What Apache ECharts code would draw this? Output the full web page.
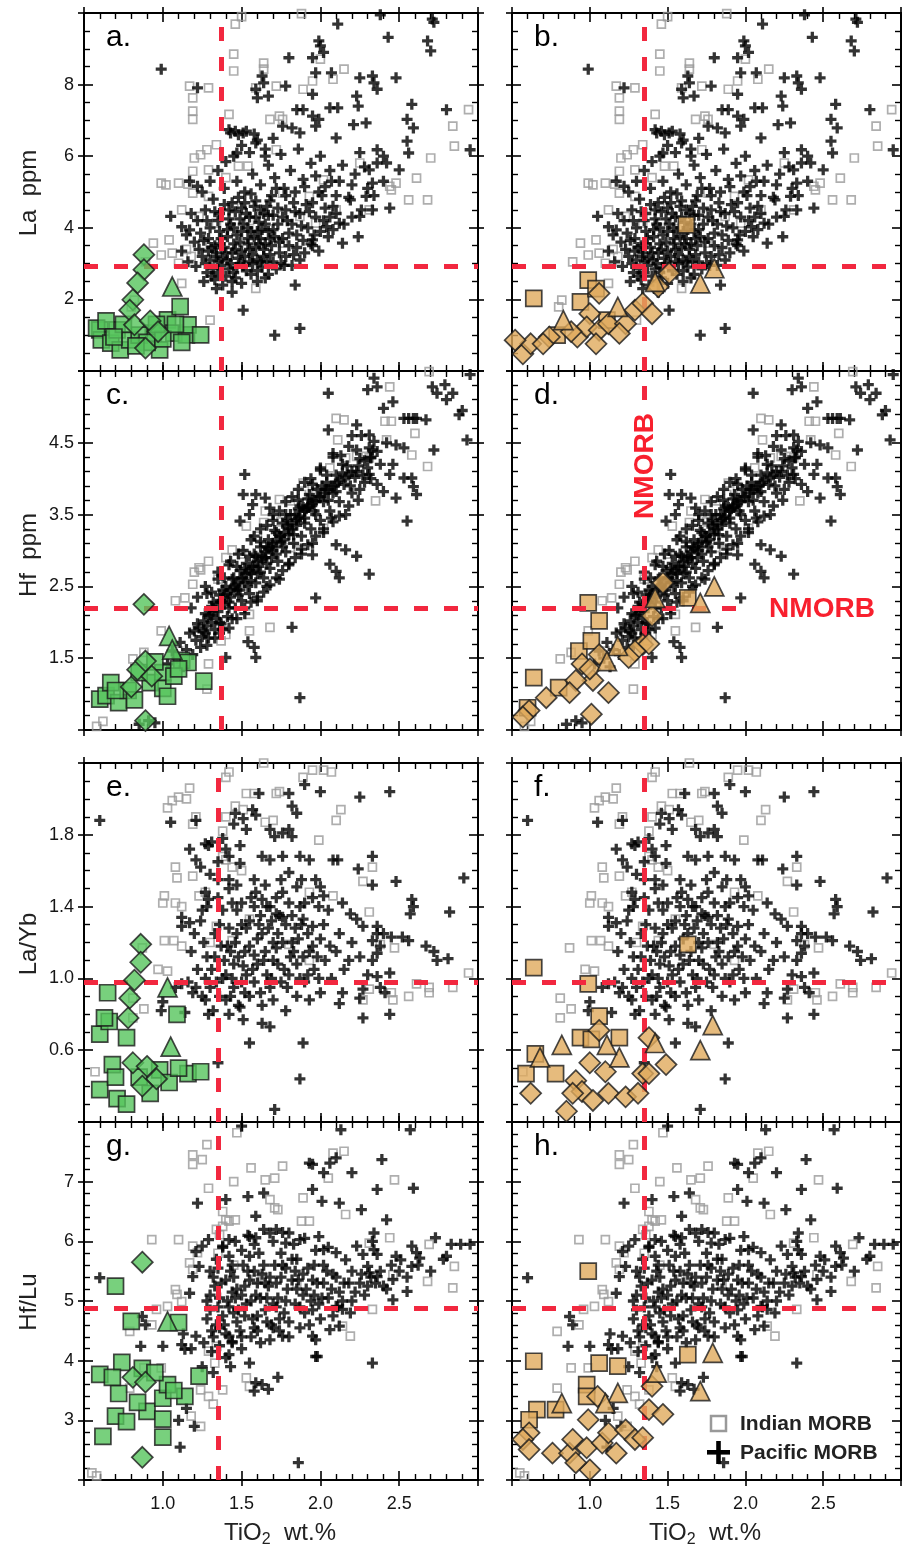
<!DOCTYPE html>
<html>
<head>
<meta charset="utf-8">
<title>MORB TiO2 plots</title>
<script src="https://cdn.jsdelivr.net/npm/echarts@6/dist/echarts.min.js"></script>
<style>
  html, body { margin: 0; padding: 0; background: #fff; }
  #chart { width: 902px; height: 1551px; }
</style>
</head>
<body>
<div id="chart"></div>
<script>
// ---------- data: [TiO2 wt.%, value] ----------

// La ppm background (panels a, b)
var laPacific = [
  [0.99,8.43],[1.22,7.91],[2.11,9.69],[2.43,9.32],[2.71,9.83],[2.72,9.74],[2.68,9.22],[2.7,8.94],[1.99,9.22],[2.0,9.08],
  [2.02,8.9],[1.8,8.75],[1.95,8.75],[1.97,8.33],[2.07,8.33],[1.63,8.24],[1.64,8.05],[1.59,7.87],[1.6,7.63],[1.67,7.68],
  [1.78,7.96],[1.95,7.73],[2.25,8.19],[2.33,8.24],[2.34,8.05],[2.36,7.87],[2.48,8.19],[2.23,7.68],[2.24,7.4],[2.58,7.45],
  [2.55,7.03],[2.8,7.3],[2.59,6.79],[2.55,6.42],[2.56,6.09],[2.5,5.62],[2.06,7.35],[2.11,7.35],[1.85,7.3],[1.89,7.3],
  [1.95,7.12],[1.99,7.03],[1.76,6.84],[1.82,6.79],[1.87,6.65],[1.97,6.84],[2.1,6.51],[2.21,6.88],[2.29,6.93],[2.36,6.18],
  [2.4,6.0],[2.42,5.81],[2.36,5.81],[2.31,5.62],[2.33,5.25],[2.29,4.88],[2.33,4.5],[2.44,4.55],[2.19,4.78],[2.25,4.32],
  [2.24,3.75],[2.14,3.57],[2.12,4.13],[2.04,4.03],[1.95,3.66],[1.87,3.1],[1.84,2.4],[1.51,1.7],[1.71,1.0],[1.87,1.19],
  [1.05,4.32],[1.12,4.03],[1.17,3.94],[1.17,5.3],[1.22,5.16],[1.42,6.74],[1.46,6.7],[1.51,6.65],[1.47,6.09],[1.59,6.37],
  [1.65,6.0],[2.38,9.95],[2.95,6.18],
  [1.16,3.05],[1.21,2.92],[1.25,3.2],[1.28,2.75],[1.31,3.45],[1.33,2.55],[1.35,3.05],[1.37,3.7],[1.38,2.4],[1.4,3.3],
  [1.42,2.85],[1.43,4.1],[1.45,3.55],[1.46,2.6],[1.48,3.15],[1.5,3.9],[1.51,2.95],[1.53,4.4],[1.55,3.4],[1.56,2.7],
  [1.58,3.75],[1.6,3.1],[1.61,4.15],[1.63,2.9],[1.65,3.55],[1.66,4.6],[1.68,3.25],[1.7,3.95],[1.72,2.85],[1.74,3.6],
  [1.76,4.3],[1.78,3.2],[1.8,3.85],[1.83,4.7],[1.85,3.45],[1.88,4.05],[1.9,3.3],[1.93,4.45],[1.96,3.8],[1.99,5.0],
  [2.02,4.2],[2.05,3.75],[2.08,4.6],[2.12,5.3],[2.15,4.1],[2.18,4.85],[2.22,5.5],[2.26,4.5],[2.3,5.1],
  [1.2,3.6],[1.22,4.2],[1.24,3.85],[1.27,4.5],[1.29,3.35],[1.3,4.0],[1.32,4.8],[1.34,3.2],[1.36,4.4],[1.39,5.1],
  [1.41,3.95],[1.44,4.7],[1.47,5.3],[1.49,4.25],[1.52,5.0],[1.54,4.0],[1.57,5.5],[1.59,4.75],[1.62,5.2],[1.64,4.4],
  [1.67,5.75],[1.69,4.9],[1.71,5.4],[1.73,4.55],[1.75,6.05],[1.77,5.1],[1.79,4.2],[1.81,5.6],[1.84,5.0],[1.86,6.2],
  [1.89,5.35],[1.91,4.65],[1.94,5.8],[1.97,5.45],[2.0,6.0],[2.03,5.15],[2.06,5.6],[2.1,4.9],[2.14,5.75],[2.2,5.2],
  [2.25,6.1],[2.28,5.7],[2.34,4.9],[2.4,5.3],
  [1.35,5.6],[1.4,5.85],[1.45,6.0],[1.5,6.3],[1.55,6.1],[1.6,6.45],[1.65,6.2],[1.7,6.5],[1.43,6.65],[1.48,6.6],
  [1.53,6.7],[1.58,6.62],[1.26,2.5],[1.34,2.3],[1.44,2.2],[1.5,2.45],[1.6,2.5],[1.67,2.7],[1.75,3.0],[1.82,2.95],
  [1.95,3.5],[1.99,3.35],[2.08,3.95],[2.2,4.3],[1.12,3.35],[1.15,3.8],[1.18,4.4],[1.25,5.0],[1.3,5.3],
  [1.3,3.1],[1.33,3.5],[1.37,2.95],[1.39,3.45],[1.41,3.1],[1.44,3.3],[1.47,2.9],[1.49,3.6],[1.52,3.2],[1.54,3.7],
  [1.57,3.0],[1.59,3.45],[1.62,3.7],[1.64,3.2],[1.67,3.9],[1.69,3.5],[1.45,4.0],[1.5,4.55],[1.55,4.3],[1.6,3.9],
  [1.65,4.1],[1.7,4.35],[1.36,3.9],[1.42,4.5],[1.48,4.85],[1.58,4.6],
  [1.27,3.0],[1.29,3.7],[1.32,2.85],[1.34,3.3],[1.36,3.55],[1.38,3.15],[1.4,2.65],[1.41,3.75],[1.43,3.0],[1.44,2.5],
  [1.46,3.4],[1.47,3.8],[1.49,3.0],[1.5,3.35],[1.51,4.1],[1.53,2.8],[1.54,3.55],[1.56,3.9],[1.57,3.25],[1.59,4.3],
  [1.6,2.8],[1.61,3.55],[1.63,3.95],[1.64,3.4],[1.66,3.05],[1.67,4.35],[1.68,3.7],[1.7,3.05],[1.71,3.75],[1.73,4.1],
  [1.74,3.3],[1.76,3.7],[1.77,2.95],[1.78,4.5],[1.8,3.5],[1.82,4.1],[1.83,3.25],[1.85,3.8],[1.87,4.4],[1.89,3.65],
  [1.92,4.0],[1.94,3.55],[1.97,4.3],[2.0,3.9],[2.03,4.55],[2.06,4.3],[2.1,4.4],[1.35,4.2],[1.39,4.65],[1.42,4.25],
  [1.46,4.45],[1.52,4.7],[1.56,4.95],[1.62,4.5],[1.68,4.75],[1.72,5.1],[1.78,4.9],[1.84,4.45],[1.9,5.15],[1.95,4.7],
  [2.01,4.9],[2.07,5.3],[1.23,3.4],[1.26,3.65],[1.28,4.2],[1.33,4.45],[1.31,2.65],[1.35,2.75],[1.45,2.75],[1.55,3.05],
  [1.65,2.6],[1.62,3.05]
];
var laIndian = [
  [1.46,9.69],[1.45,8.85],[1.45,8.38],[1.64,8.6],[1.64,8.43],[1.17,7.96],[1.29,7.91],[1.19,7.63],[1.19,7.26],[1.19,7.03],
  [1.42,7.17],[1.59,7.91],[1.72,7.96],[1.76,7.03],[1.89,7.87],[1.95,8.1],[2.08,8.15],[2.15,8.43],[2.0,8.71],[2.94,7.3],
  [2.84,6.84],[2.85,6.28],[2.7,5.95],[2.61,5.39],[2.56,4.78],[2.68,4.78],[2.45,5.06],[2.44,5.16],[2.31,4.5],[2.25,5.81],
  [1.34,6.32],[1.28,6.18],[1.24,6.04],[1.2,5.95],[1.19,5.58],[1.29,5.62],[1.1,5.25],[0.99,5.25],[1.19,4.97],[1.29,4.88],
  [1.12,4.5],[1.23,4.32],[1.34,4.13],[1.04,3.66],[0.94,3.57],[0.89,3.05],[0.99,3.24],[1.06,3.29],[1.1,3.01],[1.12,2.45],
  [0.82,1.98],[0.8,1.79],[1.3,1.42],[1.59,2.31],[1.76,3.57],[1.63,3.57],[1.48,5.72],[1.54,5.72],[1.72,6.18],[1.76,4.97],
  [1.87,4.32],[1.97,4.13],[2.1,4.5],[1.93,4.88],[2.02,5.34],[1.68,7.03],[1.74,7.12],[2.48,5.25],[1.88,9.98],[1.5,9.9],
  [1.15,3.4],[1.18,3.2],[1.25,3.5],[1.02,5.2],[1.16,5.22],[1.4,5.4],[1.45,4.6],[1.55,4.2]
];

// Hf ppm background (panels c, d)
var hfPacific = [
  [2.34,5.4],[2.36,5.28],[2.3,5.24],[2.05,5.19],[2.46,5.07],[2.4,4.98],[2.71,5.28],[2.74,5.19],[2.79,5.31],[2.84,5.19],
  [2.8,5.1],[2.88,4.89],[2.93,4.54],[2.53,4.84],[2.56,4.84],[2.59,4.84],[2.67,4.82],[2.61,4.84],[2.23,4.75],[2.05,4.68],
  [2.31,4.61],[2.34,4.52],[2.31,4.43],[2.36,4.38],[2.32,4.29],[2.48,4.47],[2.53,4.43],[2.72,4.4],[2.46,4.2],[2.44,4.06],
  [2.53,4.01],[2.58,4.01],[2.59,3.89],[2.61,3.78],[2.55,3.41],[2.36,3.92],[2.4,3.82],[2.48,3.73],[2.23,4.1],[2.31,4.06],
  [2.23,2.92],[2.1,3.08],[2.16,3.01],[2.06,2.81],[2.1,2.71],[2.12,2.62],[1.95,2.94],[2.31,2.67],[1.82,1.93],[1.97,2.34],
  [1.87,0.95],[1.52,4.06],[1.51,3.78],[1.59,3.78],[1.65,3.73],[1.57,3.64],[1.68,3.59],[1.49,3.41],[1.55,3.5],[1.58,1.65],
  [1.59,1.51],[1.4,1.51],[0.91,0.63],[0.95,0.6],[0.85,0.58],[2.95,5.45],[2.9,4.95],[1.54,1.73],
  [1.03,1.42],[1.06,1.6],[1.09,1.5],[1.11,1.72],[1.13,1.38],[1.15,1.62],[1.17,1.85],[1.19,1.55],[1.21,1.75],[1.22,1.98],
  [1.24,1.65],[1.26,1.88],[1.27,2.12],[1.29,1.78],[1.31,2.0],[1.32,2.28],[1.33,1.9],[1.35,2.15],[1.36,2.38],[1.37,1.98],
  [1.39,2.25],[1.4,2.5],[1.41,2.08],[1.43,2.35],[1.44,2.6],[1.46,2.2],[1.47,2.45],[1.49,2.72],[1.5,2.3],[1.52,2.55],
  [1.53,2.82],[1.55,2.4],[1.56,2.68],[1.58,2.95],[1.59,2.55],[1.61,2.78],[1.62,3.05],[1.64,2.62],[1.65,2.9],[1.67,3.15],
  [1.68,2.75],[1.7,3.0],[1.71,3.28],[1.73,2.85],[1.75,3.12],[1.76,3.38],[1.78,2.98],[1.8,3.22],[1.81,3.5],[1.83,3.1],
  [1.85,3.35],[1.87,3.62],[1.88,3.2],[1.9,3.45],[1.92,3.72],[1.94,3.3],[1.96,3.55],[1.98,3.85],[2.0,3.42],[2.02,3.68],
  [2.04,3.95],[2.06,3.55],[2.08,3.8],[2.1,4.05],[2.12,3.68],[2.15,3.92],[2.17,4.18],[2.2,3.8],[2.22,4.02],[2.25,4.28],
  [2.28,3.95],[2.3,4.15],[2.33,4.4],[2.38,4.2],[2.42,4.5],
  [1.3,2.1],[1.34,2.05],[1.38,2.3],[1.42,2.2],[1.45,2.48],[1.48,2.38],[1.51,2.62],[1.54,2.5],[1.57,2.78],[1.6,2.68],
  [1.63,2.88],[1.66,2.82],[1.69,3.05],[1.72,2.95],[1.74,3.2],[1.77,3.15],[1.79,3.35],[1.82,3.3],[1.84,3.5],[1.86,3.45],
  [1.89,3.6],[1.91,3.58],[1.93,3.62],[1.95,3.7],[1.99,3.75],[2.03,3.85],[2.07,3.9],[2.11,3.95],[2.14,4.08],[2.18,4.05],
  [1.25,1.8],[1.28,1.95],[1.36,1.85],[1.44,2.05],[1.52,2.2],[1.6,2.35],[1.66,2.5],[1.74,2.6],[1.8,2.8],[1.88,2.95],
  [1.95,3.1],[2.02,3.25],[2.08,3.4],[2.16,3.5],[2.24,3.7],
  [1.28,2.4],[1.35,2.6],[1.42,2.8],[1.48,2.95],[1.56,3.15],[1.62,3.3],[1.7,3.5],[1.78,3.68],[1.86,3.85],[1.94,4.0],
  [2.0,4.15],[2.08,4.3],[2.18,4.45],[2.26,4.6],
  [1.2,1.88],[1.23,1.92],[1.26,2.02],[1.29,2.1],[1.32,2.15],[1.34,2.25],[1.37,2.28],[1.39,2.38],[1.41,2.4],[1.43,2.45],
  [1.46,2.52],[1.48,2.55],[1.5,2.62],[1.53,2.68],[1.55,2.72],[1.58,2.78],[1.6,2.85],[1.63,2.92],[1.65,2.98],[1.67,3.02],
  [1.7,3.1],[1.72,3.12],[1.75,3.2],[1.77,3.25],[1.8,3.3],[1.82,3.38],[1.85,3.42],[1.87,3.48],[1.9,3.55],[1.92,3.6],
  [1.95,3.65],[1.97,3.68],[2.0,3.75],[2.03,3.8],[2.05,3.85],[2.09,3.9],[2.12,3.98],[2.16,4.02],[2.2,4.1],[2.24,4.18],
  [2.28,4.25],[2.32,4.3],
  [1.27,1.85],[1.31,2.22],[1.36,2.0],[1.38,2.45],[1.42,2.28],[1.45,2.62],[1.49,2.45],[1.52,2.75],[1.56,2.58],[1.59,2.92],
  [1.62,2.7],[1.66,3.05],[1.69,2.9],[1.72,3.25],[1.76,3.05],[1.79,3.42],[1.83,3.22],[1.86,3.58],[1.9,3.38],[1.93,3.78],
  [1.97,3.5],[2.01,3.9],[2.05,3.7],[2.1,3.82],[2.14,4.2],[2.19,3.9],[2.23,4.4],[2.27,4.05],
  [1.18,2.2],[1.22,2.35],[1.27,2.5],[1.31,2.42],[1.35,2.7],[1.39,2.62],[1.43,2.85],[1.47,2.78],[1.51,3.0],[1.55,2.92],
  [1.58,3.2],[1.62,3.12],[1.66,3.35],[1.7,3.42],[1.74,3.55],[1.78,3.5],[1.82,3.75],[1.86,3.7],[1.9,3.95],[1.95,3.92],
  [2.0,4.12],[2.04,4.05],[2.08,4.35],[2.13,4.32],[2.2,4.6],
  [1.28,1.68],[1.33,1.78],[1.38,1.9],[1.42,1.92],[1.47,2.05],[1.52,2.12],[1.56,2.28],[1.6,2.3],[1.64,2.42],[1.68,2.52],
  [1.72,2.62],[1.76,2.72],[1.8,2.82],[1.84,2.9],[1.88,3.02],[1.92,3.08],[1.97,3.2],[2.02,3.3],[2.07,3.45],[2.12,3.48],
  [2.18,3.62],[2.25,3.85],[2.32,4.0]
];
var hfIndian = [
  [2.69,5.49],[2.44,5.28],[2.1,4.84],[2.15,4.82],[2.11,4.54],[2.41,4.8],[2.45,4.8],[2.6,4.63],[2.42,4.54],[2.29,4.31],
  [2.31,4.29],[2.16,4.29],[2.23,4.31],[2.58,4.33],[2.68,4.17],[2.06,4.15],[2.35,3.69],[2.29,4.01],[1.89,3.94],[1.95,3.89],
  [1.97,3.82],[1.88,3.78],[1.81,3.69],[1.74,3.71],[1.65,3.55],[1.64,3.39],[1.53,3.34],[1.44,3.01],[1.4,2.9],[1.29,2.85],
  [1.23,2.76],[1.19,2.53],[1.14,2.34],[1.08,2.3],[0.99,1.88],[0.88,1.58],[0.81,1.49],[1.28,1.07],[1.55,2.11],[1.55,1.88],
  [1.68,1.93],[1.29,1.42],[1.37,1.74],[1.4,1.83],[1.81,3.04],[1.86,3.01],[2.02,3.31],[0.58,0.55],[0.62,0.62],[1.2,2.7],
  [1.24,2.73],[1.35,2.6],[1.5,2.95],[1.6,3.2],[1.75,3.4],[1.1,1.6]
];

// La/Yb background (panels e, f)
var lybPacific = [
  [0.6,1.88],[1.05,1.87],[1.21,1.88],[1.27,1.75],[1.29,1.74],[1.31,1.76],[1.61,2.03],[1.57,1.94],[1.59,1.91],[1.8,2.03],
  [1.82,1.96],[1.85,1.92],[1.9,2.08],[2.0,2.04],[2.25,2.01],[2.44,2.04],[1.46,1.92],[1.51,1.89],[1.45,1.86],[1.53,1.83],
  [1.68,1.83],[1.71,1.79],[1.76,1.81],[1.8,1.83],[1.82,1.79],[1.17,1.72],[1.21,1.66],[1.24,1.62],[1.49,1.74],[1.4,1.72],
  [1.42,1.68],[1.49,1.64],[1.63,1.68],[1.68,1.66],[1.76,1.68],[1.87,1.68],[1.93,1.66],[2.08,1.66],[2.11,1.66],[2.33,1.68],
  [2.24,1.61],[2.33,1.52],[2.48,1.54],[2.58,1.44],[2.59,1.4],[2.57,1.36],[2.82,1.37],[2.91,1.56],[1.97,1.55],[2.0,1.51],
  [2.02,1.46],[1.99,1.4],[1.8,1.59],[1.85,1.51],[1.76,1.48],[1.12,1.34],[1.17,1.31],[1.12,1.29],[1.27,1.48],[1.29,1.44],
  [1.25,1.38],[1.38,1.38],[1.44,1.42],[1.59,1.48],[1.63,1.44],[1.68,1.4],[1.72,1.36],[1.76,1.34],[1.87,1.4],[1.89,1.33],
  [1.95,1.29],[2.14,1.42],[2.19,1.36],[2.23,1.33],[2.27,1.29],[2.36,1.29],[2.36,1.25],[2.33,1.21],[2.38,1.18],[2.36,1.14],
  [2.33,1.1],[2.4,1.25],[2.45,1.23],[2.52,1.23],[2.56,1.21],[2.67,1.18],[2.72,1.15],[2.74,1.1],[2.81,1.11],[2.44,1.03],
  [2.36,1.01],[2.38,0.95],[2.41,0.92],[2.27,0.94],[2.25,0.89],[2.27,0.78],[2.44,0.8],[2.12,0.86],[2.14,0.92],[1.89,0.64],
  [1.87,0.44],[1.71,0.27],[1.55,0.64],[1.63,0.75],[1.68,0.73],[1.42,0.8],[1.49,0.84],[1.51,0.77],[1.27,0.88],[1.29,0.8],
  [1.12,0.97],[1.19,0.92],[1.08,0.95],[1.0,0.87],[1.14,0.81],[1.35,0.53],[0.99,0.82],
  [1.22,1.05],[1.26,1.2],[1.3,0.95],[1.33,1.12],[1.36,1.3],[1.38,1.0],[1.41,1.18],[1.43,0.9],[1.45,1.08],[1.47,1.25],
  [1.5,0.98],[1.52,1.15],[1.55,1.32],[1.57,1.05],[1.6,1.22],[1.62,0.92],[1.64,1.1],[1.67,1.28],[1.69,1.0],[1.72,1.17],
  [1.74,1.35],[1.77,1.05],[1.79,0.95],[1.82,1.2],[1.85,1.08],[1.88,1.3],[1.9,0.98],[1.93,1.15],[1.96,1.05],[2.0,1.22],
  [2.03,1.1],[2.07,1.0],[2.1,1.15],[2.15,1.05],[2.2,1.2],[2.25,1.12],[2.3,1.02],
  [1.25,0.9],[1.32,0.82],[1.4,0.88],[1.48,0.85],[1.55,0.9],[1.63,0.85],[1.7,0.88],[1.78,0.82],[1.85,0.9],[1.93,0.88],
  [2.0,0.92],[1.28,1.4],[1.35,1.45],[1.42,1.5],[1.5,1.42],[1.58,1.4],[1.65,1.52],[1.72,1.45],[1.8,1.42],[1.88,1.55],
  [1.95,1.45],[2.05,1.38],[1.2,1.25],[1.18,1.15],[1.16,0.98],[1.24,1.32],
  [1.44,1.0],[1.51,1.07],[1.58,1.13],[1.66,1.02],[1.73,1.25],[1.81,1.12],[1.87,1.0],[1.39,1.1],[1.46,1.2],[1.53,1.28],
  [1.61,1.3],[1.7,1.1],[1.76,1.2],[1.84,1.28],[1.92,1.25],[1.98,1.12],[1.3,1.58],[1.35,1.65],[1.38,1.78],[1.42,1.55],
  [1.31,1.05],[1.34,0.98],[1.37,1.18],[1.4,1.02],[1.42,1.28],[1.45,0.95],[1.48,1.12],[1.5,1.3],[1.53,1.02],[1.55,1.18],
  [1.58,0.98],[1.6,1.08],[1.63,1.25],[1.65,1.15],[1.68,0.95],[1.7,1.2],[1.73,1.08],[1.75,0.98],[1.78,1.3],[1.8,1.02],
  [1.83,1.15],[1.86,1.22],[1.89,1.12],[1.92,1.02],[1.95,1.18],[1.99,1.0],[2.02,1.3],[2.06,1.18],[2.12,1.25],[2.18,1.1],
  [1.28,1.12],[1.33,1.25],[1.36,0.9],[1.47,1.38],[1.56,1.45],[1.62,1.35],[1.69,1.32],[1.75,1.55],[1.82,1.35],[1.9,1.42],
  [1.27,1.0],[1.21,0.95],[1.43,1.15],[1.52,0.92],[1.66,1.4],[1.58,1.55],[1.47,1.52],[1.35,1.55]
];
var lybIndian = [
  [1.64,2.2],[1.4,2.12],[1.42,2.15],[1.89,2.12],[1.95,2.16],[2.02,2.16],[2.07,2.15],[1.17,2.06],[1.1,2.01],[1.06,1.99],
  [1.15,2.0],[1.03,1.95],[1.21,1.9],[1.19,1.86],[1.53,2.03],[1.58,2.03],[1.72,2.03],[1.74,2.04],[1.4,1.9],[1.46,1.96],
  [1.51,1.94],[1.65,1.87],[1.7,1.88],[2.1,1.88],[2.13,1.94],[1.99,1.77],[1.38,1.82],[1.08,1.62],[1.09,1.56],[1.19,1.57],
  [1.01,1.46],[1.0,1.42],[1.08,1.42],[1.12,1.4],[1.4,1.66],[1.44,1.62],[1.38,1.68],[1.23,1.46],[1.27,1.48],[1.93,1.48],
  [2.08,1.46],[2.33,1.62],[2.27,1.54],[2.31,1.37],[1.01,1.21],[1.07,1.21],[0.87,1.17],[0.97,1.05],[1.03,1.04],[0.81,0.89],
  [0.88,0.83],[0.81,0.78],[1.12,1.18],[1.34,1.29],[1.44,1.21],[2.31,0.94],[2.45,0.92],[2.46,0.88],[2.56,0.9],[2.61,0.97],
  [2.69,0.95],[2.69,0.92],[2.84,0.95],[2.94,1.03],[2.47,1.17],[2.38,1.19],[2.27,0.88],[1.8,1.19],[1.93,1.1],[1.55,1.33],
  [0.57,0.48],[1.3,1.2],[1.5,1.6]
];

// Hf/Lu background (panels g, h)
var hflPacific = [
  [1.5,7.93],[2.13,7.87],[2.57,7.87],[1.22,6.64],[1.4,6.7],[1.54,6.75],[1.64,6.81],[1.59,6.42],[1.93,7.31],[1.95,7.29],
  [2.06,7.31],[2.1,7.4],[2.2,7.15],[2.39,7.37],[2.59,6.89],[2.36,6.87],[1.95,6.87],[2.01,6.67],[2.12,6.64],[2.26,6.53],
  [2.02,7.15],[2.42,6.36],[2.34,6.14],[2.33,6.0],[2.34,5.86],[2.36,5.78],[2.23,5.92],[2.27,5.78],[2.58,5.92],[2.73,6.06],
  [2.83,5.95],[2.89,5.95],[2.95,5.95],[2.8,5.75],[2.48,5.75],[2.51,5.69],[2.61,5.81],[2.63,5.72],[2.58,5.58],[2.55,5.16],
  [2.46,5.36],[2.46,5.02],[2.4,5.25],[2.36,5.41],[2.31,5.47],[2.3,5.58],[2.1,5.81],[2.16,5.69],[1.99,6.08],[2.02,5.86],
  [1.87,6.03],[1.78,5.97],[1.8,6.14],[1.68,6.14],[1.72,6.2],[1.55,6.08],[1.59,6.06],[1.42,6.03],[1.38,5.92],[1.29,6.03],
  [1.25,5.92],[1.21,5.83],[1.23,5.58],[1.19,5.41],[1.17,5.13],[0.87,4.74],[0.89,4.6],[0.86,4.24],[1.0,4.24],[1.12,4.27],
  [1.14,4.19],[1.21,4.41],[1.42,4.41],[1.44,4.32],[1.55,3.96],[1.59,3.63],[1.63,3.6],[1.58,3.49],[1.42,4.1],[1.95,4.41],
  [1.97,4.35],[1.97,4.07],[2.06,4.52],[2.12,4.58],[2.14,4.86],[2.19,4.8],[2.33,3.96],[2.1,4.91],[0.6,5.39],[1.76,4.41],
  [1.11,2.55],[1.2,2.9],[1.86,2.29],[1.98,4.07],[1.73,3.72],[1.67,3.52],[1.13,4.45],[1.18,4.2],[1.25,3.9],
  [1.32,3.8],[1.43,3.9],[1.1,3.0],[1.15,3.2],
  [1.28,4.7],[1.3,5.1],[1.32,4.4],[1.35,4.9],[1.37,5.3],[1.39,4.6],[1.41,5.0],[1.43,5.5],[1.45,4.8],[1.47,5.2],
  [1.49,4.5],[1.51,5.6],[1.53,4.95],[1.55,5.35],[1.57,4.7],[1.59,5.1],[1.61,5.8],[1.63,5.45],[1.65,4.85],[1.67,5.25],
  [1.69,4.6],[1.71,5.6],[1.73,5.05],[1.75,5.4],[1.77,4.8],[1.79,5.2],[1.82,5.7],[1.84,4.95],[1.86,5.35],[1.89,5.1],
  [1.92,5.55],[1.95,4.85],[1.98,5.3],[2.01,5.05],[2.04,5.5],[2.07,5.2],[2.1,5.4],[2.14,5.0],[2.18,5.3],[2.22,5.15],
  [2.26,5.45],[2.3,5.25],
  [1.3,5.5],[1.34,5.7],[1.38,5.9],[1.42,5.75],[1.46,6.0],[1.5,5.85],[1.54,6.1],[1.58,5.95],[1.64,6.2],[1.7,6.0],
  [1.76,6.15],[1.83,5.95],[1.9,6.05],[1.97,5.85],[2.05,5.9],
  [1.26,4.3],[1.31,4.15],[1.36,4.25],[1.4,4.05],[1.44,4.3],[1.5,4.2],[1.56,4.4],[1.62,4.3],[1.68,4.35],[1.74,4.5],
  [1.8,4.4],[1.87,4.55],[1.93,4.6],[2.0,4.7],[2.08,4.75],
  [1.33,5.25],[1.36,4.55],[1.44,5.15],[1.48,4.85],[1.52,5.25],[1.58,5.5],[1.6,4.75],[1.66,5.05],[1.72,4.9],[1.78,5.55],
  [1.85,5.2],[1.9,4.8],[1.96,5.1],[2.02,5.3],[2.12,5.15],[2.2,5.5],[2.28,5.1],[2.35,5.3],[2.42,5.2],[2.5,5.5],
  [2.55,5.4],[2.62,5.6],[2.7,5.5],[2.78,5.7],[2.45,5.6],
  [1.3,4.85],[1.32,5.4],[1.34,4.6],[1.36,5.05],[1.38,4.75],[1.4,5.35],[1.42,4.9],[1.44,5.6],[1.46,5.05],[1.47,4.65],
  [1.5,5.1],[1.52,4.75],[1.54,5.5],[1.56,5.0],[1.58,4.55],[1.6,5.3],[1.62,5.05],[1.64,5.6],[1.66,4.65],[1.68,5.4],
  [1.7,4.95],[1.72,5.3],[1.74,4.7],[1.76,5.6],[1.78,5.0],[1.8,4.65],[1.82,5.35],[1.84,5.5],[1.87,4.9],[1.89,5.45],
  [1.91,5.2],[1.94,5.0],[1.96,5.6],[1.99,4.95],[2.02,5.6],[2.05,5.05],[2.08,5.45],[2.11,4.9],[2.15,5.3],[2.2,5.0],
  [2.25,5.3],[2.32,5.4],[2.38,5.5],[1.35,5.55],[1.45,5.4],[1.55,5.75],[1.65,5.3],[1.75,5.8],[1.85,5.7],[1.95,5.35],
  [1.28,5.0],[1.31,4.5],[1.4,4.45],[1.5,4.4],[1.6,4.5],[1.7,4.55]
];
var hflIndian = [
  [1.47,7.82],[1.28,7.62],[1.19,7.45],[1.25,7.37],[1.19,7.29],[1.29,6.89],[1.45,7.0],[1.38,6.5],[1.4,6.36],[1.42,6.34],
  [1.46,6.36],[1.38,6.25],[1.34,6.2],[1.36,6.11],[1.56,7.23],[1.65,7.03],[1.71,7.06],[1.76,7.26],[1.89,6.73],[1.68,6.7],
  [1.71,6.56],[1.73,6.53],[1.88,6.34],[1.93,6.34],[2.08,7.48],[2.15,7.51],[2.05,7.06],[2.16,6.45],[2.47,7.03],[2.44,6.06],
  [2.31,5.97],[2.69,5.95],[2.85,5.58],[2.84,5.22],[2.68,5.33],[2.46,5.44],[0.93,6.03],[1.1,6.03],[1.19,5.92],[1.22,5.81],
  [1.17,5.64],[1.19,5.53],[1.08,5.19],[1.09,5.11],[1.12,4.99],[0.96,4.86],[1.03,4.91],[0.79,4.49],[0.93,4.6],[0.88,3.88],
  [0.79,3.54],[0.99,3.88],[1.33,3.96],[1.29,4.16],[1.34,4.24],[1.24,3.51],[1.29,3.4],[1.38,3.51],[1.53,3.71],[1.55,3.57],
  [0.55,2.12],[1.59,5.36],[1.63,5.41],[1.85,5.3],[2.14,4.58],[2.19,4.41],[2.33,4.86],[0.58,2.07],[1.32,3.27],[1.18,3.07],
  [1.24,2.9],[1.35,5.8],[1.45,5.6]
];

// green samples (left panels)
var aSquares = [[0.6,1.15],[0.61,0.87],[0.58,1.2],[0.67,0.78],[0.71,1.15],[0.73,0.59],[0.79,0.87],[0.94,1.06],[0.98,0.59],[1.03,1.43],[1.07,1.06],[1.11,1.8],[1.15,1.01],[1.16,1.29],[1.24,1.01],[0.85,1.0],[0.9,0.8],[1.0,0.9],[1.08,1.3],[0.75,1.3],[0.64,1.4],[0.69,0.95],[0.96,1.3],[1.12,0.8],[0.83,0.7]];
var aDiamonds = [[0.88,3.25],[0.88,2.83],[0.84,2.46],[0.81,1.99],[0.79,1.7],[0.82,1.29],[0.92,1.4],[0.97,1.1],[0.89,0.64]];
var aTriangles = [[1.06,2.36]];
var cSquares = [[0.6,0.93],[0.64,0.98],[0.67,1.16],[0.72,0.88],[0.78,1.05],[0.92,1.16],[1.0,1.3],[1.0,1.08],[1.03,0.97],[1.12,1.47],[1.16,1.44],[1.26,1.18],[0.85,1.3],[0.95,1.45],[1.07,1.25],[0.7,1.05],[0.82,0.92],[1.1,1.35]];
var cDiamonds = [[0.88,2.25],[0.89,0.63],[0.84,1.34],[0.89,1.46],[0.93,1.25],[0.8,1.1]];
var cTriangles = [[1.04,1.81],[1.06,1.62]];
var eSquares = [[0.65,0.92],[0.6,0.69],[0.66,0.76],[0.77,0.67],[1.09,0.8],[0.71,0.33],[0.6,0.38],[0.68,0.52],[1.16,0.47],[1.24,0.48],[0.98,0.49],[1.04,0.42],[0.77,0.3],[0.85,0.45],[0.92,0.36],[1.1,0.5],[0.7,0.45],[0.63,0.78]];
var eDiamonds = [[0.86,1.19],[0.86,1.09],[0.82,0.99],[0.79,0.89],[0.78,0.78],[0.81,0.53],[0.9,0.51],[0.96,0.44],[0.87,0.4]];
var eTriangles = [[1.03,0.95],[1.05,0.62]];
var gSquares = [[0.7,5.25],[0.8,4.66],[1.1,4.64],[0.6,3.77],[0.62,2.73],[0.7,3.07],[0.77,2.98],[0.9,3.15],[1.0,3.02],[1.0,2.72],[1.0,3.37],[1.14,3.4],[1.23,3.74],[0.74,3.97],[0.87,3.87],[1.03,3.6],[0.72,3.45],[0.68,3.72],[0.95,3.8],[0.84,3.3],[1.07,3.5]];
var gDiamonds = [[0.87,5.65],[0.81,3.72],[0.89,3.64],[0.87,2.38]];
var gTriangles = [[1.03,4.66]];

// tan samples (right panels)
var bSquares = [[0.64,2.03],[0.99,2.54],[0.79,1.0],[1.62,4.08],[0.94,1.93],[1.11,1.42],[1.04,2.3]];
var bDiamonds = [[0.57,0.48],[0.62,0.76],[1.06,2.17],[1.0,1.6],[0.92,0.95],[0.98,1.23],[1.06,1.14],[1.12,1.32],[1.23,1.32],[1.29,1.7],[1.34,1.89],[1.4,1.6],[1.51,2.73],[1.44,2.35],[1.04,0.76],[0.74,0.95],[0.7,0.76],[1.19,1.05],[0.52,0.86],[0.88,1.1]];
var bTriangles = [[1.8,2.87],[1.71,2.45],[1.18,1.79],[1.42,2.49],[0.83,1.42]];
var dSquares = [[0.99,2.27],[1.06,2.02],[0.64,1.23],[0.8,1.09],[1.63,2.34],[0.6,0.81],[0.93,1.6],[1.01,1.74]];
var dDiamonds = [[1.47,2.55],[1.4,2.09],[1.01,0.72],[1.12,1.02],[1.02,1.19],[0.91,1.19],[0.87,1.02],[0.72,0.95],[0.61,0.77],[0.57,0.68],[1.34,1.69],[1.38,1.7],[1.29,1.6],[1.25,1.51],[1.06,1.55],[0.95,1.42],[1.0,1.35]];
var dTriangles = [[1.8,2.5],[1.71,2.27],[1.42,2.34],[1.18,1.67],[1.11,1.46]];
var fSquares = [[0.64,1.06],[0.99,0.97],[1.63,1.19],[1.06,0.79],[0.94,0.67],[1.19,0.67],[1.01,0.66],[0.59,0.47],[0.78,0.47],[0.65,0.58]];
var fDiamonds = [[1.06,0.71],[1.0,0.53],[1.1,0.48],[1.49,0.52],[1.34,0.47],[1.38,0.67],[0.62,0.36],[0.91,0.43],[0.95,0.37],[0.89,0.36],[0.85,0.26],[1.02,0.32],[1.12,0.36],[1.23,0.34],[1.31,0.36],[1.38,0.47]];
var fTriangles = [[1.79,0.74],[1.71,0.6],[1.42,0.64],[1.19,0.56],[1.11,0.63],[0.82,0.63],[0.68,0.56]];
var hSquares = [[0.99,5.5],[0.64,3.99],[1.06,3.96],[1.18,3.91],[1.63,4.1],[0.98,3.6],[0.78,3.18],[0.66,3.18],[0.61,3.01],[0.98,3.4]];
var hDiamonds = [[1.4,3.57],[1.38,3.18],[1.47,3.1],[0.99,3.01],[1.05,3.4],[0.61,2.79],[0.57,2.68],[0.76,2.45],[0.87,2.45],[0.89,2.68],[0.98,2.54],[1.0,2.17],[1.08,2.62],[1.12,2.79],[1.23,2.84],[1.29,2.68],[1.34,2.71],[1.17,2.45],[0.91,2.29],[0.61,2.51]];
var hTriangles = [[1.79,4.13],[1.43,3.8],[1.71,3.49],[1.18,3.46],[1.1,3.29],[0.82,3.29]];

// NMORB reference values (dashed lines)
var nmorbTiLeft = [1.37, 1.37, 1.35, 1.35];
var nmorbTiRight = [1.35, 1.35, 1.35, 1.35];
var nmorbY = [2.93, 2.2, 0.985, 4.88];

// axis ticks
var xMajor = [0.5, 1.0, 1.5, 2.0, 2.5, 3.0];
var xLabels = [1.0, 1.5, 2.0, 2.5];
var laMajor = [0, 2, 4, 6, 8, 10];
var laLabels = [2, 4, 6, 8];
var hfMajor = [0.5, 1.5, 2.5, 3.5, 4.5, 5.5];
var hfLabels = [1.5, 2.5, 3.5, 4.5];
var lybMajor = [0.2, 0.6, 1.0, 1.4, 1.8, 2.2];
var lybLabels = [0.6, 1.0, 1.4, 1.8];
var hflMajor = [2, 3, 4, 5, 6, 7, 8];
var hflLabels = [3, 4, 5, 6, 7];

// ---------- layout ----------
var FONT = 'Liberation Sans, Arial, Helvetica, sans-serif';
var INK = '#000';
var GREEN = '#56c45c';
var TAN = '#e0aa5c';
var RED = '#f2283f';
var CROSS = 'path://M3.5,0H6.5V3.5H10V6.5H6.5V10H3.5V6.5H0V3.5H3.5Z';

var cols = [{ left: 84, width: 394 }, { left: 512, width: 389 }];
var rows = [
  { top: 13, height: 358, min: 0, max: 10, major: laMajor, step: 0.5, labels: laLabels, dec: 0, title: 'La  ppm', titleY: 193 },
  { top: 371, height: 359, min: 0.5, max: 5.5, major: hfMajor, step: 0.2, labels: hfLabels, dec: 1, title: 'Hf  ppm', titleY: 555 },
  { top: 763, height: 359, min: 0.2, max: 2.2, major: lybMajor, step: 0.1, labels: lybLabels, dec: 1, title: 'La/Yb', titleY: 944 },
  { top: 1122, height: 358, min: 2, max: 8, major: hflMajor, step: 0.2, labels: hflLabels, dec: 0, title: 'Hf/Lu', titleY: 1302 }
];
var panels = [
  { id: 'a.', row: 0, col: 0, pac: laPacific, ind: laIndian, sq: aSquares, dia: aDiamonds, tri: aTriangles },
  { id: 'b.', row: 0, col: 1, pac: laPacific, ind: laIndian, sq: bSquares, dia: bDiamonds, tri: bTriangles },
  { id: 'c.', row: 1, col: 0, pac: hfPacific, ind: hfIndian, sq: cSquares, dia: cDiamonds, tri: cTriangles },
  { id: 'd.', row: 1, col: 1, pac: hfPacific, ind: hfIndian, sq: dSquares, dia: dDiamonds, tri: dTriangles },
  { id: 'e.', row: 2, col: 0, pac: lybPacific, ind: lybIndian, sq: eSquares, dia: eDiamonds, tri: eTriangles },
  { id: 'f.', row: 2, col: 1, pac: lybPacific, ind: lybIndian, sq: fSquares, dia: fDiamonds, tri: fTriangles },
  { id: 'g.', row: 3, col: 0, pac: hflPacific, ind: hflIndian, sq: gSquares, dia: gDiamonds, tri: gTriangles },
  { id: 'h.', row: 3, col: 1, pac: hflPacific, ind: hflIndian, sq: hSquares, dia: hDiamonds, tri: hTriangles }
];

function minors(min, max, step, major) {
  var out = [];
  var n = Math.round((max - min) / step);
  for (var i = 0; i <= n; i++) {
    var v = +(min + i * step).toFixed(4);
    var isMajor = major.some(function (m) { return Math.abs(m - v) < 1e-6; });
    if (!isMajor) out.push(v);
  }
  return out;
}

// three stacked axes per side: line + inner major ticks (+labels), outer major ticks, inner minor ticks
function addAxes(list, gi, pos, min, max, major, minor, labels, dec) {
  var hidden = { type: 'value', gridIndex: gi, min: min, max: max, position: pos,
    splitLine: { show: false }, axisLine: { show: false, onZero: false },
    axisLabel: { show: false }, axisTick: { show: false } };
  var main = list.length;
  list.push(Object.assign({}, hidden, {
    axisLine: { show: true, onZero: false, lineStyle: { color: INK, width: 2 } },
    axisTick: { show: true, inside: true, length: 9, customValues: major, lineStyle: { color: INK, width: 1.6 } },
    axisLabel: labels ? {
      show: true, customValues: labels, margin: pos === 'bottom' ? 15 : 10,
      color: '#151515', fontSize: 18, fontFamily: FONT,
      formatter: function (v) { return (+v).toFixed(dec); }
    } : { show: false }
  }));
  list.push(Object.assign({}, hidden, {
    axisTick: { show: true, inside: false, length: 6, customValues: major, lineStyle: { color: INK, width: 1.6 } }
  }));
  list.push(Object.assign({}, hidden, {
    axisTick: { show: true, inside: true, length: 6, customValues: minor, lineStyle: { color: INK, width: 1.4 } }
  }));
  return main;
}

var grid = [], xAxis = [], yAxis = [], series = [], graphic = [];
var xMinor = minors(0.5, 3.0, 0.1, xMajor);

panels.forEach(function (p, gi) {
  var r = rows[p.row], c = cols[p.col];
  grid.push({ left: c.left, top: r.top, width: c.width, height: r.height });
  var yMinor = minors(r.min, r.max, r.step, r.major);
  var xi = addAxes(xAxis, gi, 'bottom', 0.5, 3.0, xMajor, xMinor, p.row === 3 ? xLabels : null, 1);
  addAxes(xAxis, gi, 'top', 0.5, 3.0, xMajor, xMinor, null, 1);
  var yi = addAxes(yAxis, gi, 'left', r.min, r.max, r.major, yMinor, p.col === 0 ? r.labels : null, r.dec);
  addAxes(yAxis, gi, 'right', r.min, r.max, r.major, yMinor, null, 0);

  var fill = p.col === 0 ? GREEN : TAN;
  var ti = p.col === 0 ? nmorbTiLeft[p.row] : nmorbTiRight[p.row];
  var base = { type: 'scatter', xAxisIndex: xi, yAxisIndex: yi, emphasis: { disabled: true } };

  series.push(Object.assign({}, base, {
    name: 'nmorb', data: [], z: 1,
    markLine: {
      silent: true, symbol: ['none', 'none'], label: { show: false },
      lineStyle: { color: RED, width: 5, type: [14, 16] },
      data: [{ xAxis: ti }, { yAxis: nmorbY[p.row] }]
    }
  }));
  series.push(Object.assign({}, base, {
    name: 'Indian MORB', data: p.ind, z: 2, symbol: 'rect', symbolSize: 8,
    itemStyle: { color: 'rgba(255,255,255,0)', borderColor: '#9a9a9a', borderWidth: 1.7 }
  }));
  series.push(Object.assign({}, base, {
    name: 'Pacific MORB', data: p.pac, z: 3, symbol: CROSS, symbolSize: 11,
    itemStyle: { color: INK }
  }));
  var sampleStyle = { color: fill, borderColor: '#1a1a1a', borderWidth: 1.7 };
  series.push(Object.assign({}, base, { name: 'squares', data: p.sq, z: 4, symbol: 'rect', symbolSize: 16, itemStyle: sampleStyle }));
  series.push(Object.assign({}, base, { name: 'diamonds', data: p.dia, z: 5, symbol: 'diamond', symbolSize: 21, itemStyle: sampleStyle }));
  series.push(Object.assign({}, base, { name: 'triangles', data: p.tri, z: 6, symbol: 'triangle', symbolSize: 19, itemStyle: sampleStyle }));

  graphic.push({ type: 'text', x: c.left + 22, y: r.top + 25, z: 50,
    style: { text: p.id, fill: INK, fontSize: 30, fontFamily: FONT, align: 'left', verticalAlign: 'middle' } });
});

rows.forEach(function (r) {
  graphic.push({ type: 'text', x: 29, y: r.titleY, rotation: Math.PI / 2, z: 50,
    style: { text: r.title, fill: '#222', fontSize: 24, fontFamily: FONT, align: 'center', verticalAlign: 'middle' } });
});

[280, 705].forEach(function (cx) {
  graphic.push({ type: 'text', x: cx, y: 1533, z: 50,
    style: {
      text: '{n|TiO}{s|2}{n|  wt.%}', align: 'center', verticalAlign: 'middle',
      rich: {
        n: { fontSize: 24, fontFamily: FONT, fill: '#222', lineHeight: 30, verticalAlign: 'middle' },
        s: { fontSize: 16, fontFamily: FONT, fill: '#222', lineHeight: 30, verticalAlign: 'bottom' }
      }
    } });
});

// NMORB labels in panel d
graphic.push({ type: 'rect', z: 40, shape: { x: 631, y: 404, width: 28, height: 122 }, style: { fill: '#fff' } });
graphic.push({ type: 'text', x: 645, y: 466, rotation: Math.PI / 2, z: 41,
  style: { text: 'NMORB', fill: '#f8202e', fontSize: 28, fontWeight: 'bold', fontFamily: FONT, align: 'center', verticalAlign: 'middle' } });
graphic.push({ type: 'rect', z: 40, shape: { x: 752, y: 595, width: 134, height: 28 }, style: { fill: '#fff' } });
graphic.push({ type: 'text', x: 822, y: 609, z: 41,
  style: { text: 'NMORB', fill: '#f8202e', fontSize: 28, fontWeight: 'bold', fontFamily: FONT, align: 'center', verticalAlign: 'middle' } });

// legend in panel h
graphic.push({ type: 'rect', z: 60, shape: { x: 711, y: 1416, width: 15, height: 15 }, style: { fill: 'none', stroke: '#999', lineWidth: 2.5 } });
graphic.push({ type: 'text', x: 740, y: 1424, z: 60,
  style: { text: 'Indian MORB', fill: '#222', fontSize: 21, fontWeight: 'bold', fontFamily: FONT, align: 'left', verticalAlign: 'middle' } });
graphic.push({ type: 'rect', z: 60, shape: { x: 707, y: 1450, width: 23, height: 4.6 }, style: { fill: INK } });
graphic.push({ type: 'rect', z: 60, shape: { x: 716.2, y: 1441, width: 4.6, height: 23 }, style: { fill: INK } });
graphic.push({ type: 'text', x: 740, y: 1453, z: 60,
  style: { text: 'Pacific MORB', fill: '#222', fontSize: 21, fontWeight: 'bold', fontFamily: FONT, align: 'left', verticalAlign: 'middle' } });

var chart = echarts.init(document.getElementById('chart'), null, { renderer: 'canvas' });
chart.setOption({
  animation: false,
  backgroundColor: '#fff',
  grid: grid,
  xAxis: xAxis,
  yAxis: yAxis,
  series: series,
  graphic: graphic
});
</script>
</body>
</html>
